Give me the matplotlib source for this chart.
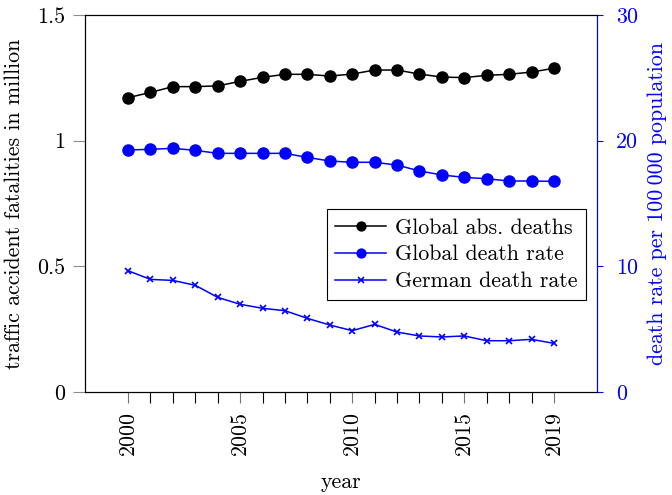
import numpy as np
import matplotlib
matplotlib.use("Agg")
import matplotlib.pyplot as plt
from matplotlib.ticker import FixedLocator, FuncFormatter

plt.rcParams['font.family'] = ['cmr10', 'DejaVu Serif']
plt.rcParams['axes.formatter.use_mathtext'] = True
FS = 15.8

years = np.arange(2000, 2020)

# global road traffic deaths, million per year
global_deaths = [1.171, 1.192, 1.215, 1.215, 1.218, 1.236, 1.252, 1.264, 1.264, 1.257,
                 1.265, 1.281, 1.281, 1.265, 1.253, 1.251, 1.260, 1.264, 1.273, 1.288]
# global death rate per 100 000 population
global_rate = [19.26, 19.31, 19.39, 19.23, 18.99, 18.99, 18.99, 18.99, 18.67, 18.38,
               18.28, 18.28, 18.06, 17.59, 17.27, 17.08, 16.97, 16.79, 16.79, 16.76]
# German death rate per 100 000 population
german_rate = [9.65, 8.96, 8.88, 8.49, 7.53, 6.98, 6.66, 6.47, 5.86, 5.33,
               4.88, 5.38, 4.77, 4.46, 4.38, 4.46, 4.08, 4.08, 4.19, 3.87]

year_labels = [2000, 2005, 2010, 2015, 2019]
left_ticks = [0, 0.5, 1, 1.5]
right_ticks = [0, 10, 20, 30]

fig = plt.figure(figsize=(6.72, 4.95), dpi=100)
ax = fig.add_axes([85 / 672, 103 / 495, 512 / 672, 377 / 495])
ax2 = ax.twinx()

l1, = ax.plot(years, global_deaths, color='black', marker='o', markersize=8,
              linewidth=1.1, label='Global abs. deaths')
l2, = ax2.plot(years, global_rate, color='blue', marker='o', markersize=8,
               linewidth=1.1, label='Global death rate')
l3, = ax2.plot(years, german_rate, color='blue', marker='x', markersize=5,
               markeredgewidth=1.2, linewidth=1.1, label='German death rate')

ax.set_xlim(1998.08, 2020.92)
ax.set_ylim(0, 1.5)
ax2.set_ylim(0, 30)

fmt = FuncFormatter(lambda v, p: '%g' % v)
ax.xaxis.set_major_locator(FixedLocator(year_labels))
ax.xaxis.set_minor_locator(FixedLocator(years))
ax.xaxis.set_major_formatter(fmt)
ax.yaxis.set_major_locator(FixedLocator(left_ticks))
ax.yaxis.set_major_formatter(fmt)
ax2.yaxis.set_major_locator(FixedLocator(right_ticks))
ax2.yaxis.set_major_formatter(fmt)

ax.tick_params(axis='x', which='major', direction='out', length=8, width=0.8,
               color='0.45', labelrotation=90, pad=6, labelsize=FS)
ax.tick_params(axis='x', which='minor', direction='out', length=8, width=0.8,
               color='black')
ax.tick_params(axis='y', direction='out', length=8.5, width=0.8, color='0.55',
               labelsize=FS, pad=6)
ax2.tick_params(axis='y', direction='out', length=4.5, width=0.8, color='blue',
                labelcolor='blue', labelsize=FS, pad=9)

for a in (ax, ax2):
    for s in a.spines.values():
        s.set_linewidth(0.8)
ax2.spines['right'].set_color('blue')
ax2.spines['left'].set_color('black')

ax.set_xlabel('year', fontsize=FS, labelpad=12)
ax.set_ylabel('traffic accident fatalities in million', fontsize=FS, labelpad=9)
ax2.set_ylabel('death rate per 100\u2009000 population', fontsize=FS,
               color='blue', labelpad=7)

leg = ax2.legend(handles=[l1, l2, l3], loc='lower right',
                 bbox_to_anchor=(0.9785, 0.244), fontsize=FS, frameon=True,
                 fancybox=False, edgecolor='black', framealpha=1,
                 handlelength=2.3, borderpad=0.4, labelspacing=0.33,
                 handletextpad=0.4, borderaxespad=0, markerscale=0.8)
leg.get_frame().set_linewidth(0.8)

fig.savefig('out.png', dpi=100)
